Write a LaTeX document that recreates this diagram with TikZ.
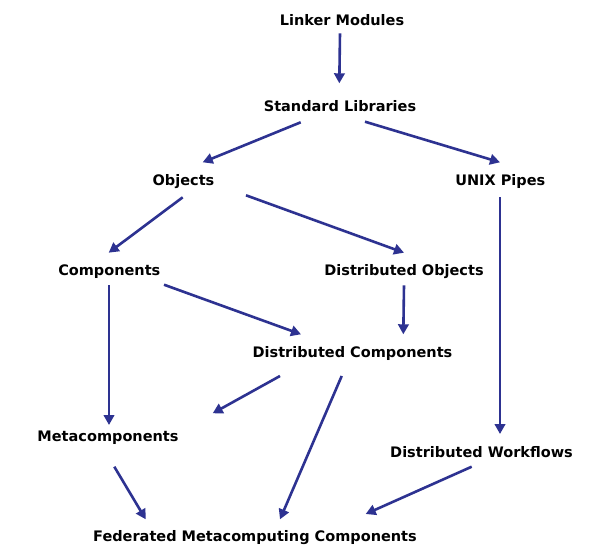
\documentclass[tikz,border=0pt]{standalone}
\usepackage{fontspec}
\setmainfont{DejaVu Sans}
\usetikzlibrary{arrows.meta,calc}
\definecolor{arrowblue}{RGB}{45,50,145}
\tikzset{
  lbl/.style={anchor=base, inner sep=0pt, font=\fontsize{14.5}{17}\selectfont\bfseries, text=black},
  conn/.style={draw=arrowblue, line width=2.6pt, -{Triangle[length=10pt,width=10.5pt]}}
}
\begin{document}
\begin{tikzpicture}[x=1pt,y=-1pt]
\useasboundingbox (0,0) rectangle (600,554);
\fill[white] (0,0) rectangle (600,554);
\node[lbl] (lm)   at (342,25)    {Linker Modules};
\node[lbl] (std)  at (340,111.7) {Standard Libraries};
\node[lbl] (obj)  at (183.5,185) {Objects};
\node[lbl] (unix) at (500.3,185) {UNIX Pipes};
\node[lbl] (comp) at (109.3,275.7) {Components};
\node[lbl] (dobj) at (404,275.7) {Distributed Objects};
\node[lbl] (dc)   at (352.5,357.3) {Distributed Components};
\node[lbl] (meta) at (108,441)   {Metacomponents};
\node[lbl] (dw)   at (481.5,457.3) {Distributed Workflows};
\node[lbl] (fed)  at (255,541.7) {Federated Metacomputing Components};

\draw[conn] ($(lm.base)+(-2,8.3)$) -- ($(std.base)+(-0.7,-28.4)$);
\draw[conn] ($(std.base)+(-39.3,10.6)$) -- ($(obj.base)+(19.2,-22.7)$);
\draw[conn] ($(std.base)+(25,10)$) -- ($(unix.base)+(-0.3,-22.7)$);
\draw[conn] ($(obj.base)+(-0.8,12.3)$) -- ($(comp.base)+(-0.6,-23)$);
\draw[conn] ($(obj.base)+(62.5,10.3)$) -- ($(dobj.base)+(0,-23)$);
\draw[conn] ($(unix.base)+(-0.3,12.3)$) -- ($(dw.base)+(18.5,-23.3)$);
\draw[conn] ($(comp.base)+(-0.3,9.6)$) -- ($(meta.base)+(1,-16)$);
\draw[conn] ($(comp.base)+(54.7,9)$) -- ($(dc.base)+(-51.5,-23)$);
\draw[conn] ($(dobj.base)+(0,9.6)$) -- ($(dc.base)+(50.8,-23)$);
\draw[conn] ($(dc.base)+(-72.5,18.7)$) -- ($(meta.base)+(104.7,-27.7)$);
\draw[conn] ($(dc.base)+(-10.8,18.7)$) -- ($(fed.base)+(25,-22.4)$);
\draw[conn] ($(meta.base)+(6.3,25.7)$) -- ($(fed.base)+(-109.3,-22.4)$);
\draw[conn] ($(dw.base)+(-9.8,9.4)$) -- ($(fed.base)+(110.7,-27.7)$);
\end{tikzpicture}
\end{document}
